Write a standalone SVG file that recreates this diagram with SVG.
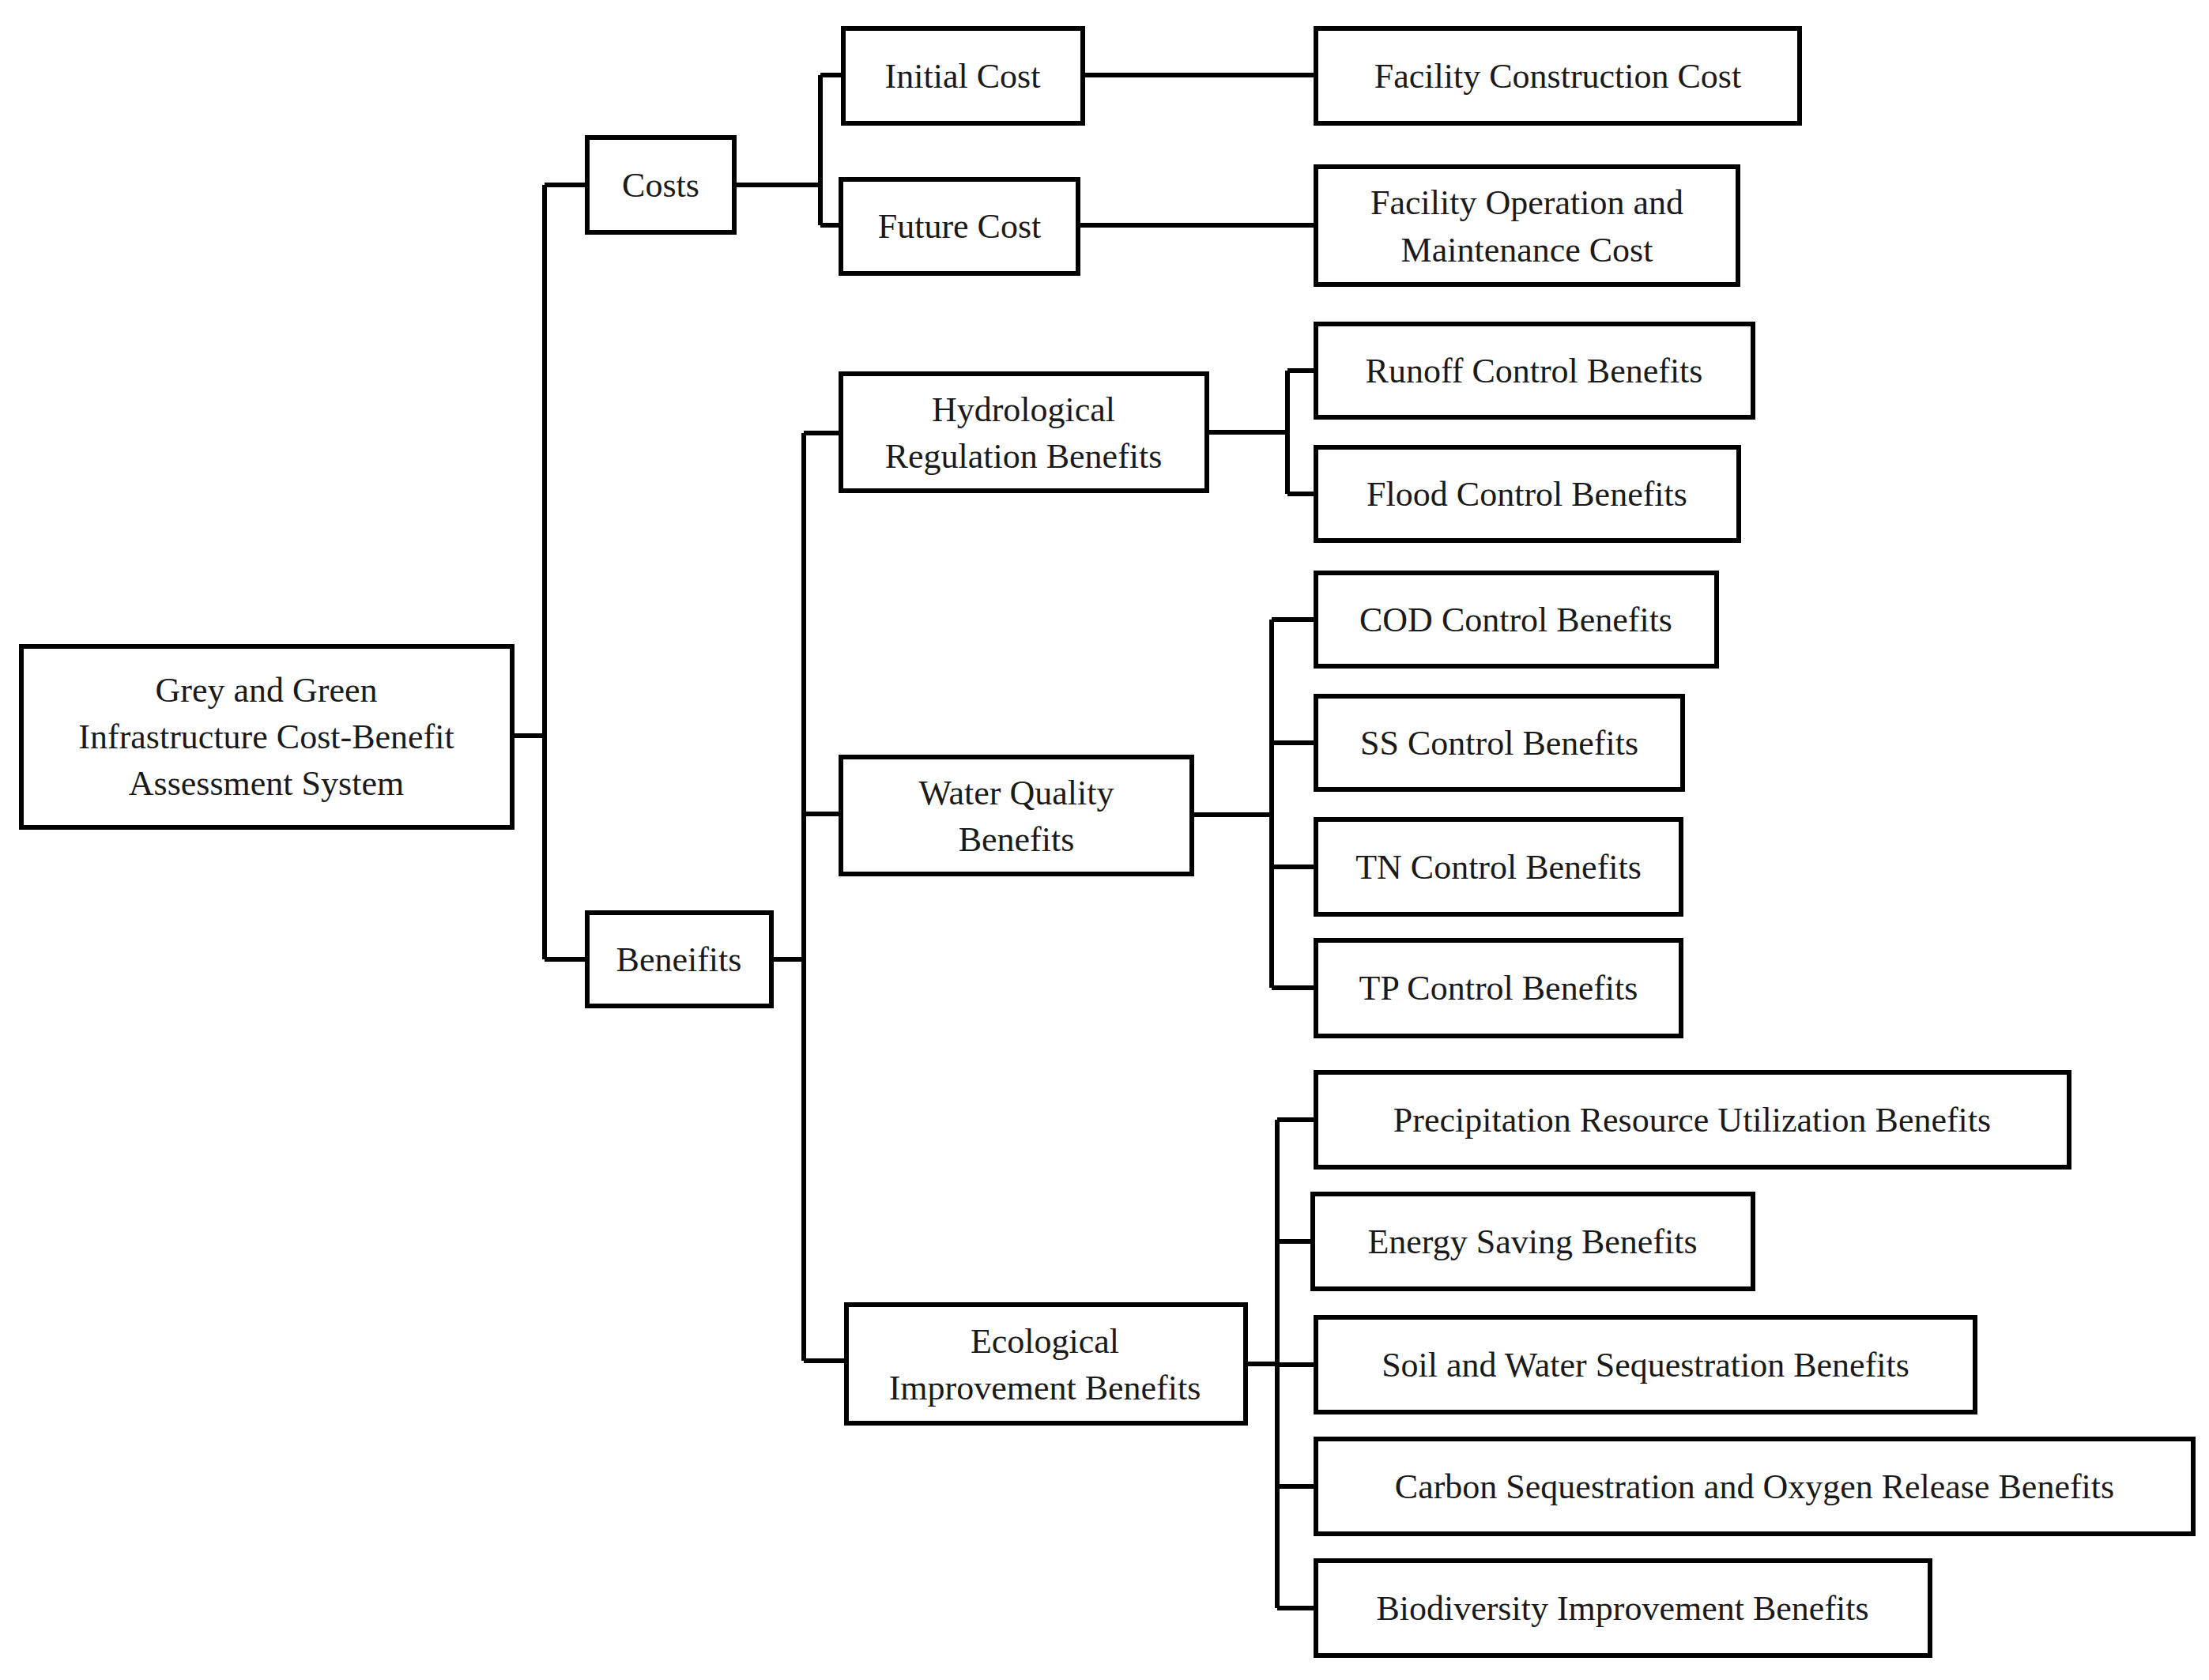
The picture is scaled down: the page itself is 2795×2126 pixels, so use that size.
<svg xmlns="http://www.w3.org/2000/svg" width="2795" height="2126" viewBox="0 0 2795 2126">
<style>
rect{fill:#fff;stroke:#000;stroke-width:6}
text{font-family:"Liberation Serif",serif;font-size:44px;fill:#1a1a1a;text-anchor:middle;dominant-baseline:central}
#c path{fill:none;stroke:#000;stroke-width:6}
</style>
<rect x="0" y="0" width="2795" height="2126" style="stroke:none"/>
<g id="c">
<path d="M648 931H689M689 234V1214M689 234H743M689 1214H743"/>
<path d="M929 234H1038M1038 95V285M1038 95H1067M1038 285H1064"/>
<path d="M976 1214H1017M1017 548V1722M1017 548H1064M1017 1030H1064M1017 1722H1071"/>
<path d="M1370 95H1665M1364 285H1665"/>
<path d="M1527 547H1629M1629 469V625M1629 469H1665M1629 625H1665"/>
<path d="M1508 1031H1609M1609 784V1250M1609 784H1665M1609 940H1665M1609 1097H1665M1609 1250H1665"/>
<path d="M1576 1726H1616M1616 1417V2035M1616 1417H1665M1616 1571H1661M1616 1727H1665M1616 1881H1665M1616 2035H1665"/>
</g>
<g id="root"><rect x="27" y="818" width="621" height="229"/><text x="337" y="873">Grey and Green</text><text x="337" y="932">Infrastructure Cost-Benefit</text><text x="337" y="991">Assessment System</text></g>
<g id="costs"><rect x="743" y="174" width="186" height="120"/><text x="836" y="234">Costs</text></g>
<g id="benefits"><rect x="743" y="1155" width="233" height="118"/><text x="859" y="1214">Beneifits</text></g>
<g id="initial"><rect x="1067" y="36" width="303" height="120"/><text x="1218" y="96">Initial Cost</text></g>
<g id="future"><rect x="1064" y="227" width="300" height="119"/><text x="1214" y="286">Future Cost</text></g>
<g id="hydro"><rect x="1064" y="473" width="463" height="148"/><text x="1295" y="518">Hydrological</text><text x="1295" y="577">Regulation Benefits</text></g>
<g id="water"><rect x="1064" y="958" width="444" height="148"/><text x="1286" y="1003">Water Quality</text><text x="1286" y="1062">Benefits</text></g>
<g id="eco"><rect x="1071" y="1651" width="505" height="150"/><text x="1322" y="1697">Ecological</text><text x="1322" y="1756">Improvement Benefits</text></g>
<g id="fcc"><rect x="1665" y="36" width="612" height="120"/><text x="1971" y="96">Facility Construction Cost</text></g>
<g id="fom"><rect x="1665" y="211" width="534" height="149"/><text x="1932" y="256">Facility Operation and</text><text x="1932" y="316">Maintenance Cost</text></g>
<g id="runoff"><rect x="1665" y="410" width="553" height="118"/><text x="1941" y="469">Runoff Control Benefits</text></g>
<g id="flood"><rect x="1665" y="566" width="535" height="118"/><text x="1932" y="625">Flood Control Benefits</text></g>
<g id="cod"><rect x="1665" y="725" width="507" height="118"/><text x="1918" y="784">COD Control Benefits</text></g>
<g id="ss"><rect x="1665" y="881" width="464" height="118"/><text x="1897" y="940">SS Control Benefits</text></g>
<g id="tn"><rect x="1665" y="1037" width="462" height="120"/><text x="1896" y="1097">TN Control Benefits</text></g>
<g id="tp"><rect x="1665" y="1190" width="462" height="121"/><text x="1896" y="1250">TP Control Benefits</text></g>
<g id="precip"><rect x="1665" y="1357" width="953" height="120"/><text x="2141" y="1417">Precipitation Resource Utilization Benefits</text></g>
<g id="energy"><rect x="1661" y="1511" width="557" height="120"/><text x="1939" y="1571">Energy Saving Benefits</text></g>
<g id="soil"><rect x="1665" y="1667" width="834" height="120"/><text x="2082" y="1727">Soil and Water Sequestration Benefits</text></g>
<g id="carbon"><rect x="1665" y="1821" width="1110" height="120"/><text x="2220" y="1881">Carbon Sequestration and Oxygen Release Benefits</text></g>
<g id="bio"><rect x="1665" y="1975" width="777" height="120"/><text x="2053" y="2035">Biodiversity Improvement Benefits</text></g>
</svg>
